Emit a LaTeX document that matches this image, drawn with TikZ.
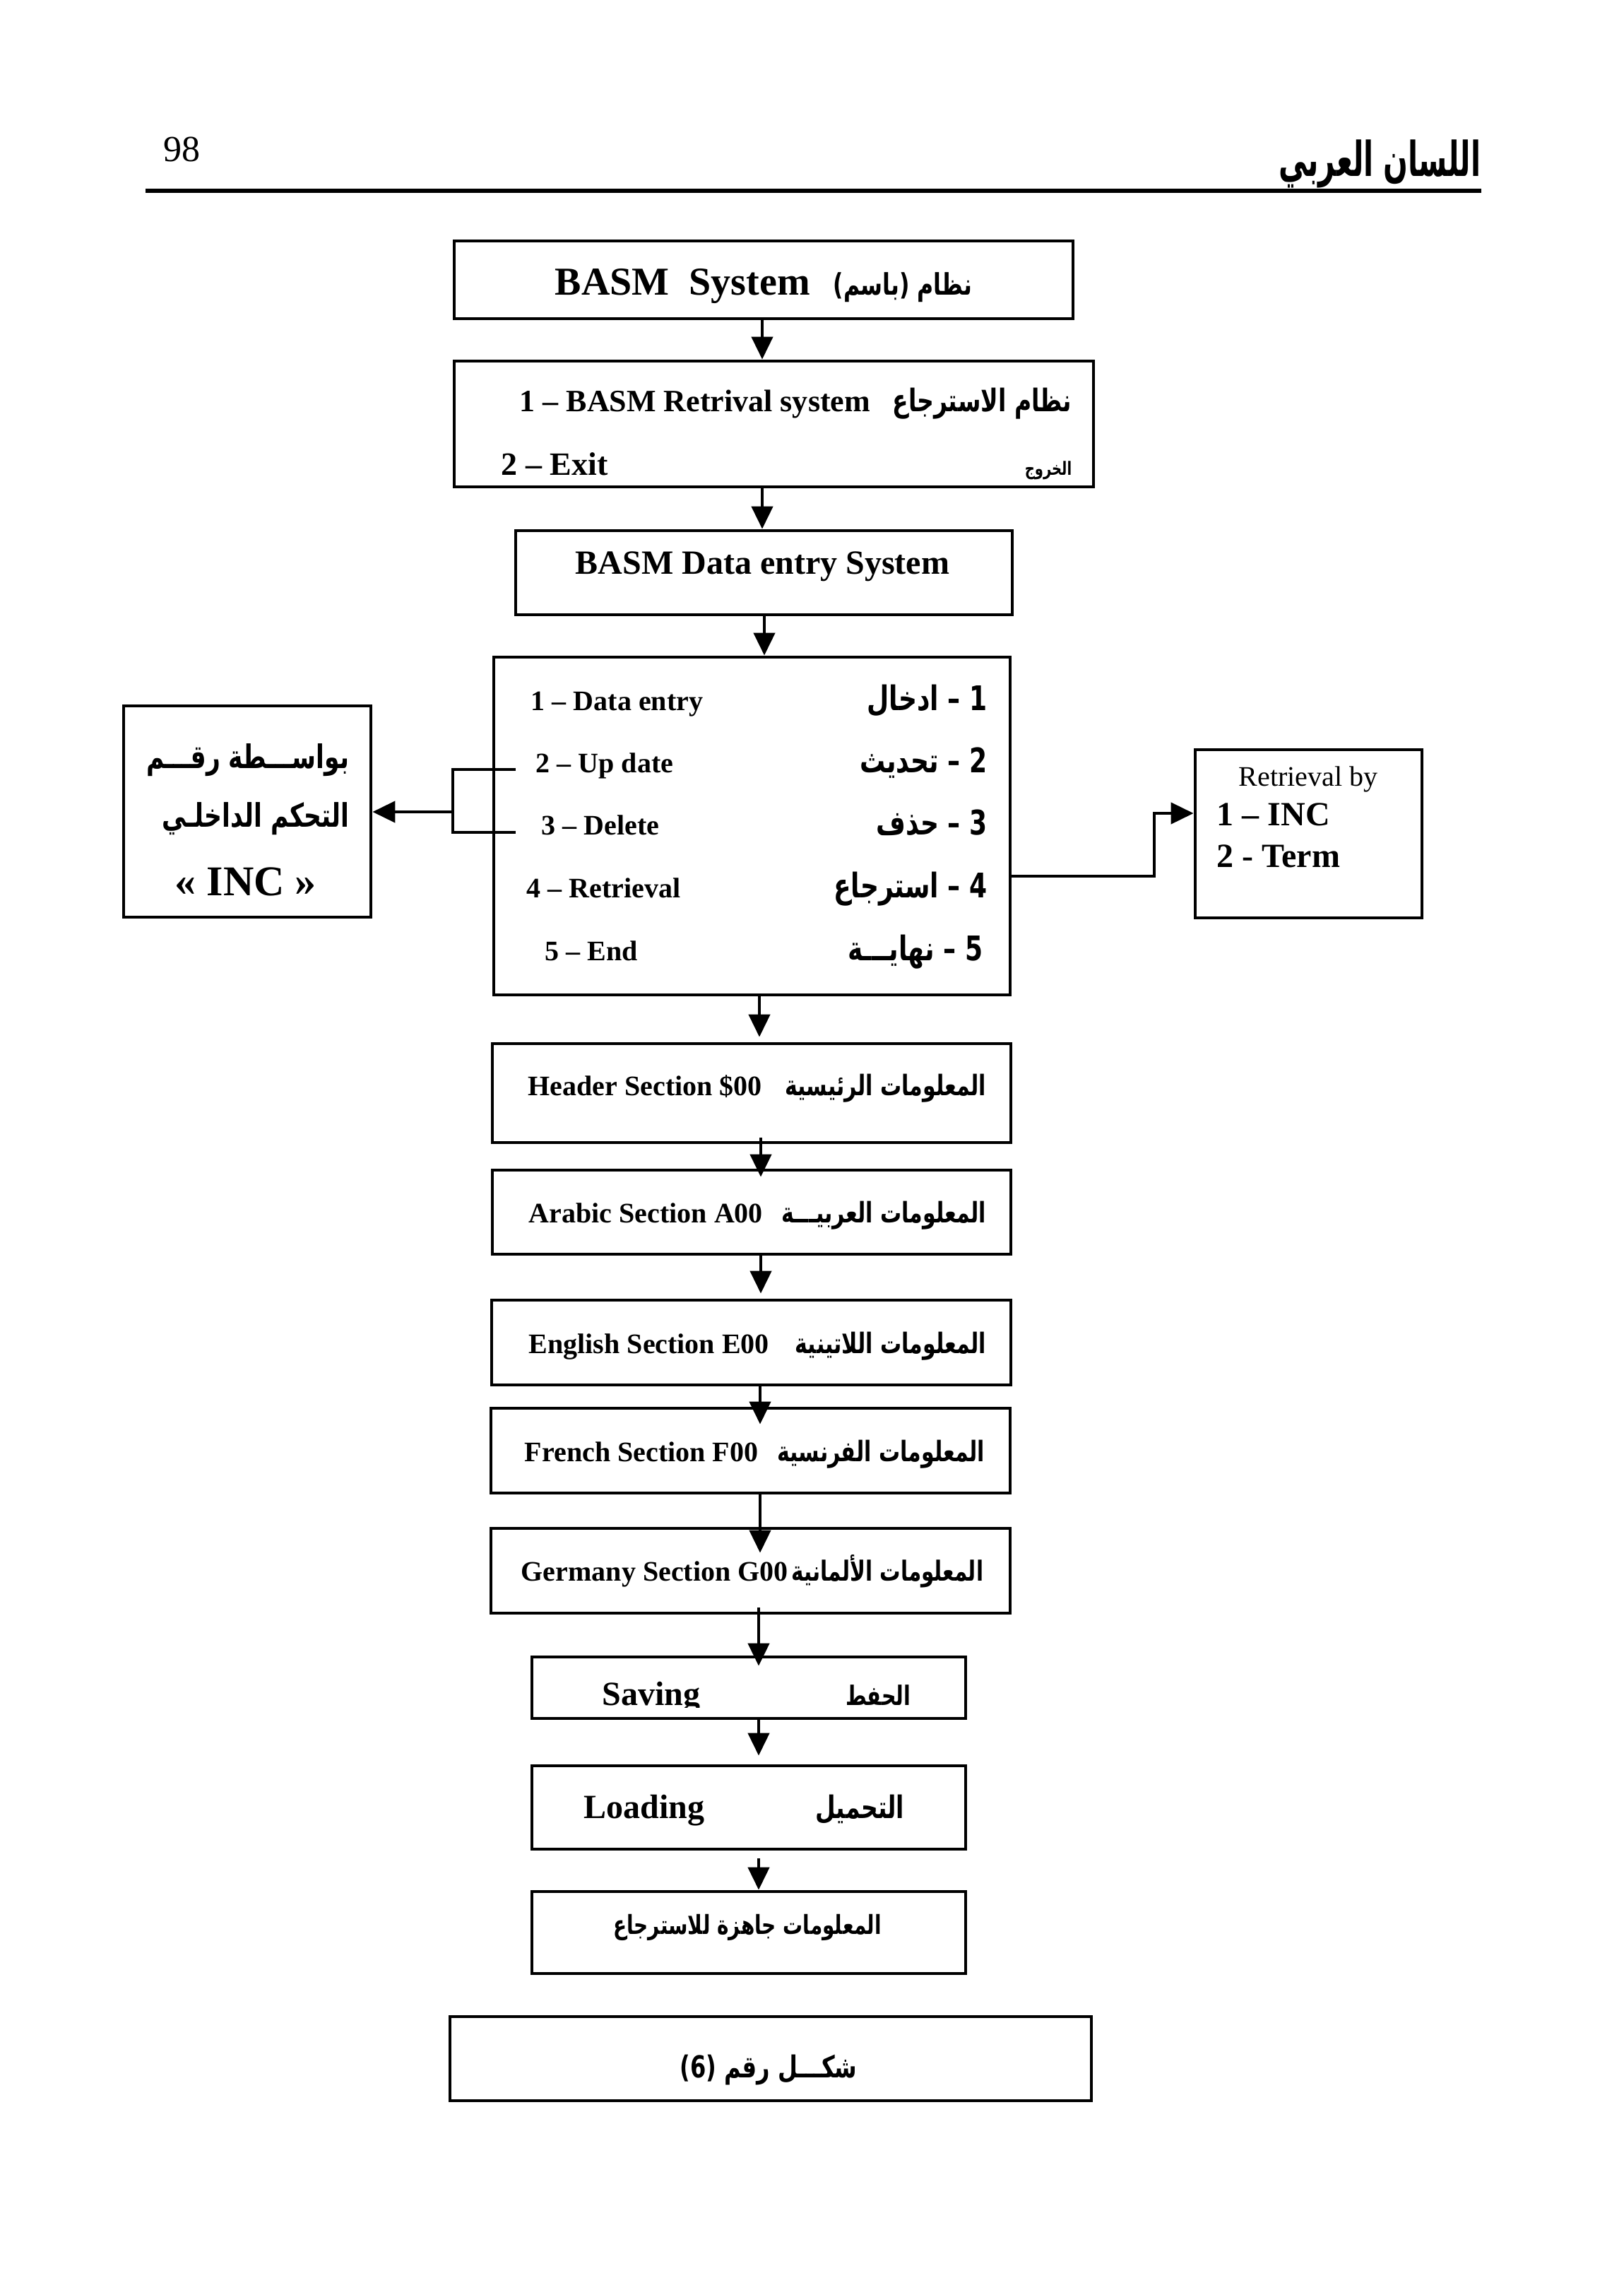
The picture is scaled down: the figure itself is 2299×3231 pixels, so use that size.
\documentclass[tikz,border=0pt]{standalone}
\usepackage{fontspec}
\setmainfont{Liberation Serif}
\newfontfamily\arfont[Script=Arabic, FakeStretch=0.75]{DejaVu Sans}
\newfontfamily\logofont[Script=Arabic, FakeStretch=0.6]{DejaVu Sans}
\TeXXeTstate=1
\usetikzlibrary{arrows.meta}
\tikzset{
  box/.style={draw, line width=1.2pt, rectangle, inner sep=0pt},
  arr/.style={line width=1.1pt, -{Triangle[length=8pt, width=7.5pt]}},
  ln/.style={line width=1.1pt},
  eb/.style={inner sep=0pt, font=\fontsize{#1}{#1}\selectfont\bfseries},
  er/.style={inner sep=0pt, font=\fontsize{#1}{#1}\selectfont},
  ab/.style={inner sep=0pt, font=\fontsize{#1}{#1}\selectfont\arfont\bfseries},
}
\begin{document}
\begin{tikzpicture}[x=0.25pt, y=-0.25pt]
\path[fill=white] (0,0) rectangle (2299,3231);
\useasboundingbox (0,0) rectangle (2299,3231);

% page header
\node[er=13, anchor=base west] (pnum) at (231,229) {98};
\node[inner sep=0pt, font=\fontsize{17}{17}\selectfont\logofont\bfseries, anchor=base east] (logo) at (2097,250) {\beginR اللسان العربي\endR};
\draw[line width=1.6pt] (206,270) -- (2097,270);

% boxes
\node[box, minimum width=219pt, minimum height=27.5pt] (b1) at (1081,396) {};
\node[box, minimum width=226.25pt, minimum height=44.5pt] (b2) at (1095.5,600) {};
\node[box, minimum width=175.75pt, minimum height=29.75pt] (b3) at (1081.5,810.5) {};
\node[box, minimum width=182.75pt, minimum height=119.5pt] (menu) at (1064.5,1169) {};
\node[box, minimum width=87.5pt, minimum height=74.75pt] (lbox) at (350,1148.5) {};
\node[box, minimum width=80.25pt, minimum height=59.5pt] (rbox) at (1852.5,1180) {};
\node[box, minimum width=183.5pt, minimum height=35pt] (hdr) at (1064,1547) {};
\node[box, minimum width=183.5pt, minimum height=29.75pt] (arb) at (1064,1715.5) {};
\node[box, minimum width=183.75pt, minimum height=30pt] (eng) at (1063.5,1900) {};
\node[box, minimum width=183.75pt, minimum height=30pt] (fre) at (1062.5,2053) {};
\node[box, minimum width=183.75pt, minimum height=30pt] (ger) at (1062.5,2223) {};
\node[box, minimum width=153.5pt, minimum height=21.75pt] (sav) at (1060,2388.5) {};
\node[box, minimum width=153.5pt, minimum height=29.5pt] (lod) at (1060,2558) {};
\node[box, minimum width=153.5pt, minimum height=29pt] (fin) at (1060,2735) {};
\node[box, minimum width=227pt, minimum height=29.75pt] (cap) at (1091,2913.5) {};

% box texts
\node[eb=14, anchor=base west] (t1a) at (785,418) {BASM\ \ System};
\node[ab=10.5, anchor=base east] (t1b) at (1377,418) {\beginR نظام (باسم)\endR};
\node[eb=11, anchor=base west] (t2a) at (735,583) {1 – BASM Retrival system};
\node[ab=11, anchor=base east] (t2b) at (1518,583) {\beginR نظام الاسترجاع\endR};
\node[eb=11.5, anchor=base west] (t2c) at (709,672) {2 – Exit};
\node[ab=6.5, anchor=base east] (t2d) at (1518,672) {\beginR الخروج\endR};
\node[eb=12, anchor=base west] (t3) at (814,812) {BASM Data entry System};

\node[eb=10, anchor=base west] (m1) at (751,1005) {1 – Data entry};
\node[eb=10, anchor=base west] (m2) at (758,1093) {2 – Up date};
\node[eb=10, anchor=base west] (m3) at (766,1181) {3 – Delete};
\node[eb=10, anchor=base west] (m4) at (745,1270) {4 – Retrieval};
\node[eb=10, anchor=base west] (m5) at (771,1359) {5 – End};
\node[ab=12, anchor=base east] (r1) at (1398,1005) {\beginR 1 – ادخال\endR};
\node[ab=12, anchor=base east] (r2) at (1398,1093) {\beginR 2 – تحديث\endR};
\node[ab=12, anchor=base east] (r3) at (1398,1181) {\beginR 3 – حذف\endR};
\node[ab=12, anchor=base east] (r4) at (1398,1270) {\beginR 4 – استرجاع\endR};
\node[ab=12, anchor=base east] (r5) at (1392,1359) {\beginR 5 – نهايـــة\endR};

\node[ab=11.5, anchor=base east] (l1) at (495,1087) {\beginR بواســـطة رقـــم\endR};
\node[ab=11.5, anchor=base east] (l2) at (495,1170) {\beginR التحكم الداخلـي\endR};
\node[eb=15, anchor=base] (l3) at (348,1267) {« INC »};

\node[er=10, anchor=base west] (q1) at (1753,1112) {Retrieval by};
\node[eb=12, anchor=base west] (q2) at (1722,1168) {1 – INC};
\node[eb=12, anchor=base west] (q3) at (1722,1227) {2 - Term};

\node[eb=10, anchor=base west] (h1) at (747,1550) {Header Section \$00};
\node[ab=10, anchor=base east] (h2) at (1397,1550) {\beginR المعلومات الرئيسية\endR};
\node[eb=10, anchor=base west] (a1) at (748,1730) {Arabic Section A00};
\node[ab=10, anchor=base east] (a2) at (1397,1730) {\beginR المعلومات العربيـــة\endR};
\node[eb=10, anchor=base west] (e1) at (748,1915) {English Section E00};
\node[ab=10, anchor=base east] (e2) at (1397,1915) {\beginR المعلومات اللاتينية\endR};
\node[eb=10, anchor=base west] (f1) at (742,2068) {French Section F00};
\node[ab=10, anchor=base east] (f2) at (1395,2068) {\beginR المعلومات الفرنسية\endR};
\node[eb=10, anchor=base west] (g1) at (737,2237) {Germany Section G00};
\node[ab=9.8, anchor=base east] (g2) at (1393,2237) {\beginR المعلومات الألمانية\endR};

\begin{scope}
\clip (800,2350) rectangle (1000,2416);
\node[eb=12, anchor=base west] (s1) at (852,2413) {Saving};
\end{scope}
\node[ab=9.5, anchor=base east] (s2) at (1290,2413) {\beginR الحفط\endR};
\node[eb=12, anchor=base west] (o1) at (826,2573) {Loading};
\node[ab=11, anchor=base east] (o2) at (1281,2573) {\beginR التحميل\endR};
\node[ab=9.3, anchor=base] (fn) at (1058,2737) {\beginR المعلومات جاهزة للاسترجاع\endR};
\node[ab=10.7, anchor=base] (cp) at (1088,2940) {\beginR شكـــل رقم (6)\endR};

% main arrows
\coordinate (x1) at (1079,0);
\coordinate (x2) at (1082,0);
\coordinate (x3) at (1075,0);
\coordinate (x4) at (1077,0);
\coordinate (x5) at (1076,0);
\coordinate (x6) at (1074,0);
\draw[arr] (x1 |- b1.south) -- (x1 |- b2.north);
\draw[arr] (x1 |- b2.south) -- (x1 |- b3.north);
\draw[arr] (x2 |- b3.south) -- (x2 |- menu.north);
\draw[arr, shorten >=1.75pt] (x3 |- menu.south) -- (x3 |- hdr.north);
\draw[arr, shorten <=-2.25pt, shorten >=-3pt] (x4 |- hdr.south) -- (x4 |- arb.north);
\draw[arr, shorten >=1.75pt] (x4 |- arb.south) -- (x4 |- eng.north);
\draw[arr, shorten >=-6.25pt] (x5 |- eng.south) -- (x5 |- fre.north);
\draw[arr, shorten >=-9.25pt] (x5 |- fre.south) -- (x5 |- ger.north);
\draw[arr, shorten <=-2.5pt, shorten >=-3.75pt] (x6 |- ger.south) -- (x6 |- sav.north);
\draw[arr, shorten >=3pt] (x6 |- sav.south) -- (x6 |- lod.north);
\draw[arr, shorten <=2.75pt] (x6 |- lod.south) -- (x6 |- fin.north);

% left bracket and arrow
\coordinate (br1) at (730,1089);
\coordinate (br2) at (641,1089);
\coordinate (br3) at (641,1178);
\coordinate (br4) at (730,1178);
\draw[ln] (br1) -- (br2) -- (br3) -- (br4);
\coordinate (la) at (641,1149);
\draw[arr] (la) -- (la -| lbox.east);

% right connector
\coordinate (rc) at (1634,1240);
\coordinate (rt) at (1634,1151);
\draw[arr] (menu.east |- rc) -- (rc) -- (rt) -- (rbox.west |- rt);
\end{tikzpicture}
\end{document}
